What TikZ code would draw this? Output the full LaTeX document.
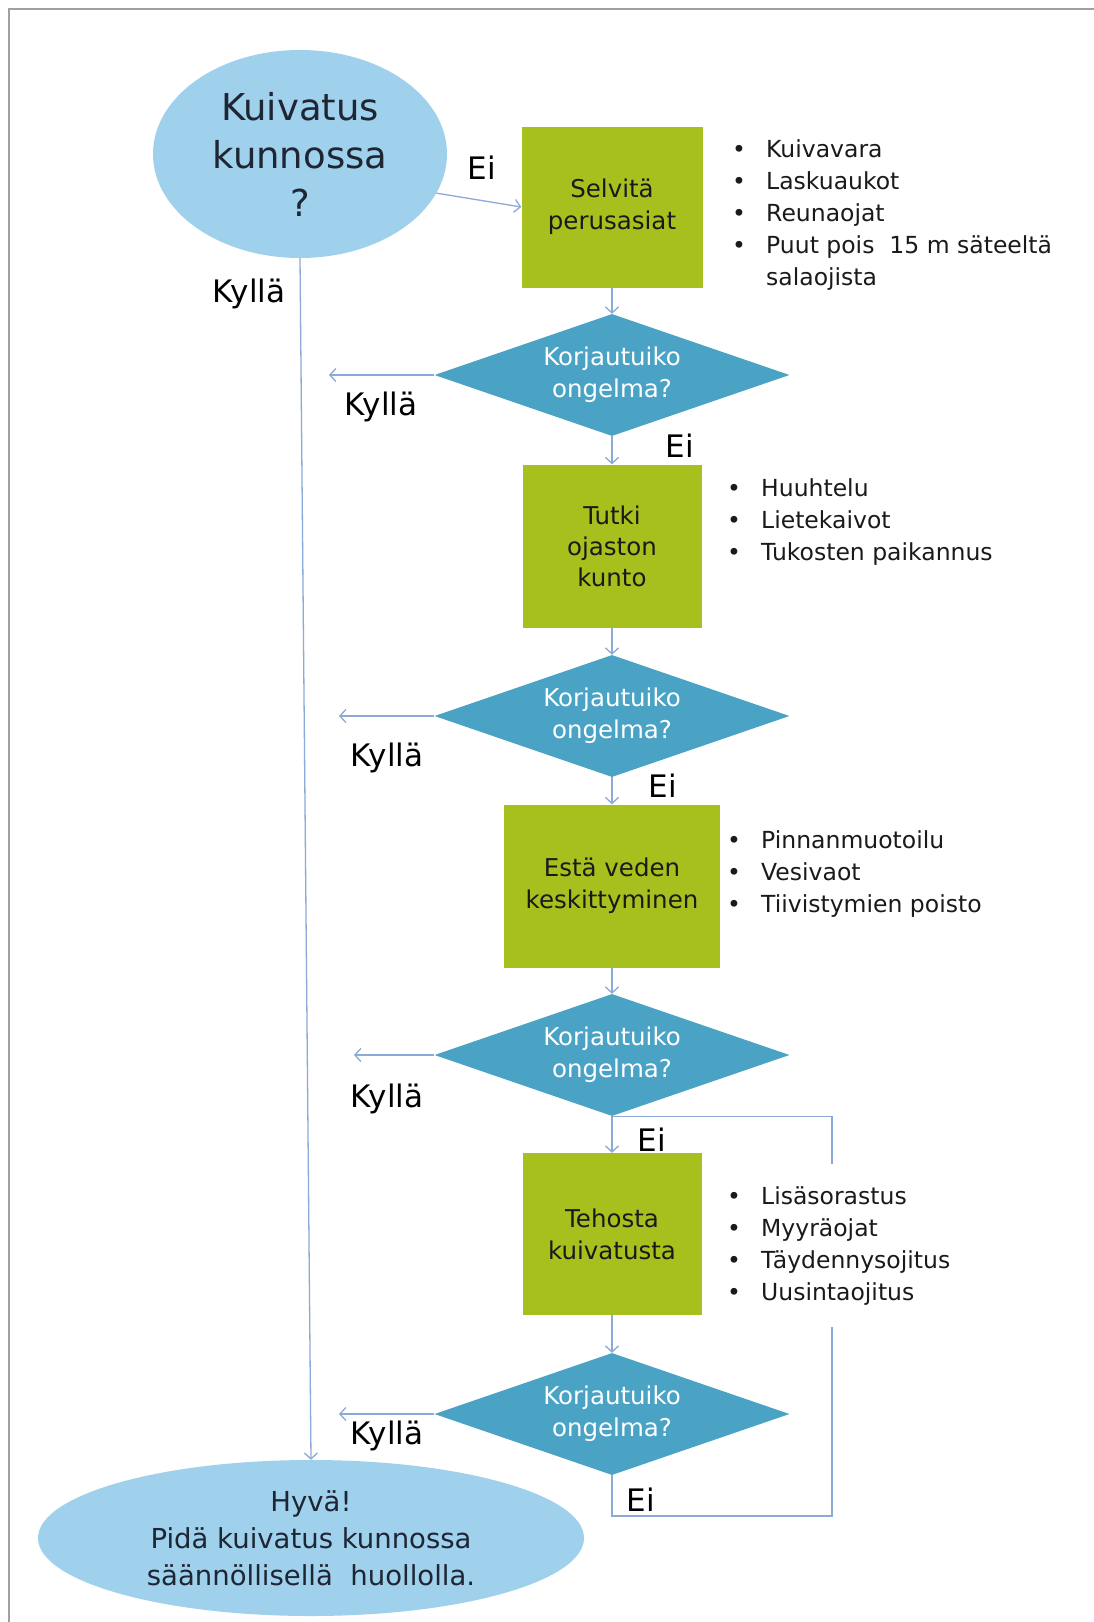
\documentclass[tikz,border=0pt]{standalone}
\usepackage{fontspec}
\setmainfont{DejaVu Sans}
\usetikzlibrary{shapes.geometric,arrows.meta}
\definecolor{ellblue}{HTML}{9FD0EC}
\definecolor{boxgreen}{HTML}{A8C01E}
\definecolor{diamblue}{HTML}{4AA3C4}
\definecolor{flowline}{HTML}{8CAAD7}
\definecolor{elltext}{HTML}{1E2533}
\definecolor{boxtext}{HTML}{1A1A1A}
\definecolor{frame}{HTML}{A0A0A0}
\newcommand\bul{\makebox[34pt][l]{\textbullet}}
\newcommand\bulsp{\makebox[34pt]{}}
\begin{document}
\begin{tikzpicture}[x=1pt,y=-1pt]
\tikzset{
  flow/.style={draw=flowline, line width=1.3pt, -{Straight Barb[length=6pt,width=13pt]}},
  plain/.style={draw=flowline, line width=1.3pt},
  ellnode/.style={ellipse, fill=ellblue, inner sep=0pt, text=elltext, align=center},
  stepbox/.style={rectangle, fill=boxgreen, inner sep=0pt, text=boxtext, align=center, font=\fontsize{24.5}{32}\selectfont},
  decision/.style={diamond, fill=diamblue, inner sep=0pt, aspect=2.9, text=white, align=center, minimum width=355pt, minimum height=122pt, font=\fontsize{24.5}{32}\selectfont},
  bullets/.style={anchor=north west, inner sep=0pt, align=left, text=boxtext, font=\fontsize{23.5}{32}\selectfont},
  answer/.style={anchor=base, inner sep=0pt, text=black, font=\fontsize{31}{31}\selectfont},
}
\useasboundingbox (0,0) rectangle (1094,1622);
\fill[white] (0,0) rectangle (1094,1622);
% frame (top and left edges)
\draw[frame, line width=2pt] (9,1622) -- (9,9) -- (1094,9);

% shapes
\node[ellnode, minimum width=294pt, minimum height=208pt, font=\fontsize{37}{48}\selectfont] (top) at (300,154) {Kuivatus\\kunnossa\\?};
\node[stepbox, minimum width=181pt, minimum height=161pt] (s1) at (612,207) {Selvitä\\perusasiat};
\node[decision] (d1) at (612,375) {Korjautuiko\\ongelma?};
\node[stepbox, minimum width=179pt, minimum height=163pt, font=\fontsize{24.5}{31}\selectfont] (s2) at (612,546) {Tutki\\ojaston\\kunto};
\node[decision] (d2) at (612,716) {Korjautuiko\\ongelma?};
\node[stepbox, minimum width=216pt, minimum height=163pt] (s3) at (612,886) {Estä veden\\keskittyminen};
\node[decision] (d3) at (612,1055) {Korjautuiko\\ongelma?};
\node[stepbox, minimum width=179pt, minimum height=162pt] (s4) at (612,1234) {Tehosta\\kuivatusta};
\node[decision] (d4) at (612,1414) {Korjautuiko\\ongelma?};
\node[ellnode, minimum width=546pt, minimum height=156pt, font=\fontsize{27.5}{37}\selectfont] (bottom) at (311,1538) {Hyvä!\\Pidä kuivatus kunnossa\\säännöllisellä\ \ huollolla.};

% free ends of the "Kyllä" arrows and the loop corner
\coordinate (k1) at (329,375);
\coordinate (k2) at (339,716);
\coordinate (k3) at (354,1055);
\coordinate (k4) at (339,1414);
\coordinate (loopbr) at (832,1516);

% connectors
\draw[flow] (top.-16) -- (s1.west);
\draw[flow] (top.south) -- (bottom.north);
\draw[flow] (s1.south) -- (d1.north);
\draw[flow] (d1.south) -- (s2.north);
\draw[flow] (s2.south) -- (d2.north);
\draw[flow] (d2.south) -- (s3.north);
\draw[flow] (s3.south) -- (d3.north);
\draw[flow] (d3.south) -- (s4.north);
\draw[flow] (s4.south) -- (d4.north);
\draw[flow] (d1.west) -- (k1);
\draw[flow] (d2.west) -- (k2);
\draw[flow] (d3.west) -- (k3);
\draw[flow] (d4.west) -- (k4);
\draw[plain] (d4.south) |- (loopbr) |- (d3.south);

% bullet lists
\node[bullets] (b1) at (732,139) {\bul Kuivavara\\\bul Laskuaukot\\\bul Reunaojat\\\bul Puut pois\ \ 15 m säteeltä\\\bulsp salaojista};
\node[bullets] (b2) at (727,478) {\bul Huuhtelu\\\bul Lietekaivot\\\bul Tukosten paikannus};
\node[bullets] (b3) at (727,830) {\bul Pinnanmuotoilu\\\bul Vesivaot\\\bul Tiivistymien poisto};
\node[bullets, fill=white, inner ysep=22pt] (b4) at (727,1164) {\bul Lisäsorastus\\\bul Myyräojat\\\bul Täydennysojitus\\\bul Uusintaojitus};

% answer labels
\node[answer] (ei0) at (482,179) {Ei};
\node[answer] (ky0) at (249,302) {Kyllä};
\node[answer] (ky1) at (381,415) {Kyllä};
\node[answer] (ei1) at (680,457) {Ei};
\node[answer] (ky2) at (387,766) {Kyllä};
\node[answer] (ei2) at (663,797) {Ei};
\node[answer] (ky3) at (387,1107) {Kyllä};
\node[answer] (ei3) at (652,1151) {Ei};
\node[answer] (ky4) at (387,1444) {Kyllä};
\node[answer] (ei4) at (641,1511) {Ei};
\end{tikzpicture}
\end{document}
